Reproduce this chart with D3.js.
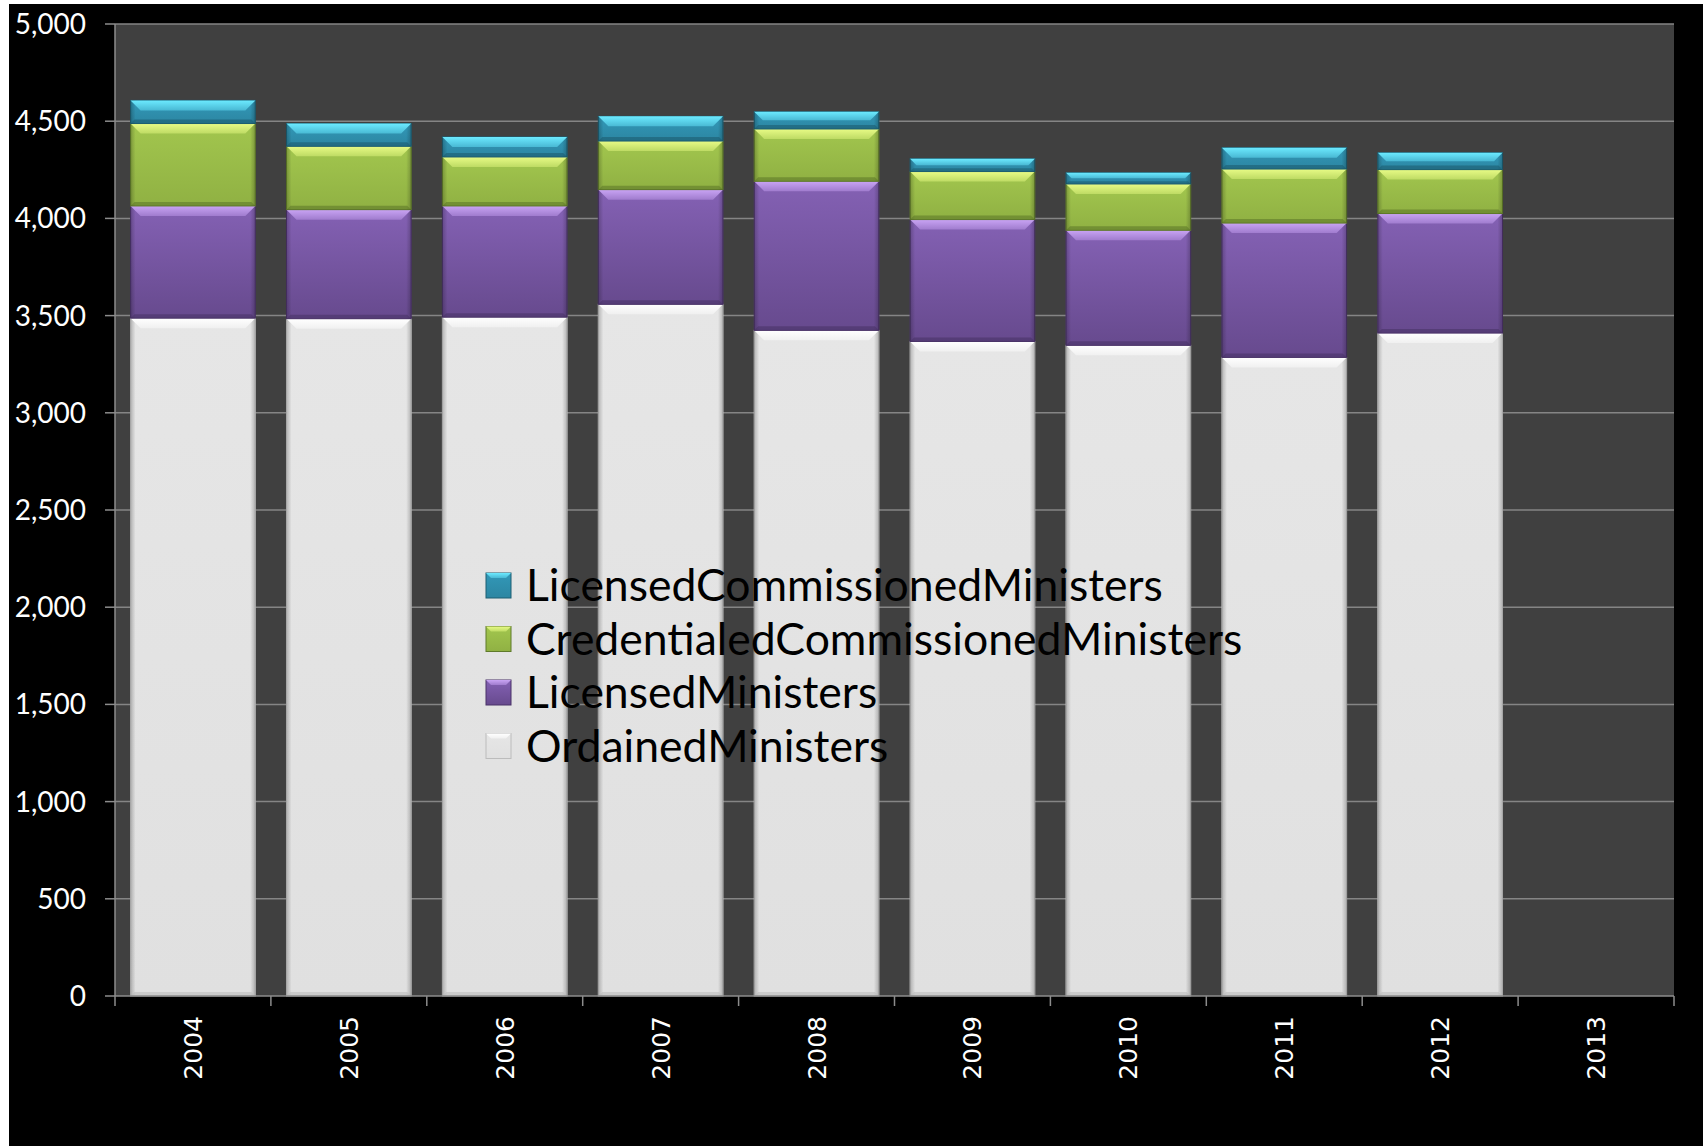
<!DOCTYPE html>
<html>
<head>
<meta charset="utf-8">
<script src="https://cdnjs.cloudflare.com/ajax/libs/d3/7.8.5/d3.min.js"></script>
<style>
  body { margin: 0; background: #000; }
  svg { display: block; }
</style>
</head>
<body>
<div class="chart"></div>
<script>
// Ministers by year, stacked column chart

// Data
// ==============================
var years = ["2004", "2005", "2006", "2007", "2008", "2009", "2010", "2011", "2012", "2013"];
var ordainedMinisters = [3487, 3484, 3492, 3558, 3424, 3367, 3347, 3285, 3410, 0];
var licensedMinisters = [577, 561, 572, 590, 767, 627, 592, 691, 615, 0];
var credentialedCommissioned = [424, 326, 252, 250, 269, 247, 238, 278, 226, 0];
var licensedCommissioned = [119, 117, 103, 127, 89, 66, 58, 110, 87, 0];
var yTicks = [0, 500, 1000, 1500, 2000, 2500, 3000, 3500, 4000, 4500, 5000];

var seriesNames = ["OrdainedMinisters", "LicensedMinisters", "CredentialedCommissionedMinisters", "LicensedCommissionedMinisters"];

// colours: [highlight, top, bottom, shadow]
var seriesColors = {
  OrdainedMinisters: ["#ffffff", "#e6e6e6", "#e0e0e0", "#bcbcbc"],
  LicensedMinisters: ["#c9a4f4", "#8461b4", "#674a8e", "#4a3368"],
  CredentialedCommissionedMinisters: ["#e8fb86", "#a2c64e", "#90b143", "#5f7a2a"],
  LicensedCommissionedMinisters: ["#6ceaff", "#3298b8", "#2c86a2", "#1d5e72"]
};

var svgWidth = 1703;
var svgHeight = 1146;

var margin = {
  top: 24,
  right: 29,
  bottom: 150,
  left: 115
};

var width = svgWidth - margin.left - margin.right;
var height = svgHeight - margin.top - margin.bottom;

var svg = d3.select(".chart")
  .append("svg")
  .attr("width", svgWidth)
  .attr("height", svgHeight);

// white frame on the top / left edge, black canvas
svg.append("rect")
  .attr("width", svgWidth)
  .attr("height", svgHeight)
  .attr("fill", "#ffffff");
svg.append("rect")
  .attr("x", 9)
  .attr("y", 4)
  .attr("width", svgWidth - 9)
  .attr("height", svgHeight - 4)
  .attr("fill", "#000000");

var defs = svg.append("defs");

seriesNames.forEach(function(name, i) {
  var c = seriesColors[name];
  var g = defs.append("linearGradient")
    .attr("id", "grad" + i)
    .attr("x1", 0).attr("y1", 0).attr("x2", 0).attr("y2", 1);
  g.append("stop").attr("offset", "0%").attr("stop-color", c[1]);
  g.append("stop").attr("offset", "100%").attr("stop-color", c[2]);

  var b = defs.append("linearGradient")
    .attr("id", "bevel" + i)
    .attr("x1", 0).attr("y1", 0).attr("x2", 0).attr("y2", 1);
  b.append("stop").attr("offset", "0%").attr("stop-color", c[0]);
  b.append("stop").attr("offset", "100%").attr("stop-color", d3.interpolateRgb(c[0], c[1])(0.6));
});

var side = defs.append("linearGradient")
  .attr("id", "sideShade")
  .attr("x1", 0).attr("y1", 0).attr("x2", 1).attr("y2", 0);
side.append("stop").attr("offset", "0%").attr("stop-color", "#000").attr("stop-opacity", 0.22);
side.append("stop").attr("offset", "4%").attr("stop-color", "#000").attr("stop-opacity", 0);
side.append("stop").attr("offset", "96%").attr("stop-color", "#000").attr("stop-opacity", 0);
side.append("stop").attr("offset", "100%").attr("stop-color", "#000").attr("stop-opacity", 0.22);

var chartGroup = svg.append("g")
  .attr("transform", `translate(${margin.left}, ${margin.top})`);

// Step 1: Build table and stack
// ==============================
var table = years.map(function(y, i) {
  return {
    year: y,
    OrdainedMinisters: ordainedMinisters[i],
    LicensedMinisters: licensedMinisters[i],
    CredentialedCommissionedMinisters: credentialedCommissioned[i],
    LicensedCommissionedMinisters: licensedCommissioned[i]
  };
});

var stacked = d3.stack().keys(seriesNames)(table);

// Step 2: Scales
// ==============================
var xBandScale = d3.scaleBand()
  .domain(years)
  .range([0, width])
  .paddingInner(0.2)
  .paddingOuter(0.1);

var yLinearScale = d3.scaleLinear()
  .domain([0, 5000])
  .range([height, 0]);

// plot background
chartGroup.append("rect")
  .attr("width", width)
  .attr("height", height)
  .attr("fill", "#404040");

// gridlines
chartGroup.selectAll(".grid")
  .data(yTicks.slice(1))
  .enter()
  .append("line")
  .attr("x1", 0)
  .attr("x2", width)
  .attr("y1", d => yLinearScale(d))
  .attr("y2", d => yLinearScale(d))
  .attr("stroke", "#858585")
  .attr("stroke-width", 1.5);

// Step 3: Bars with bevel
// ==============================
var layers = chartGroup.selectAll(".layer")
  .data(stacked)
  .enter()
  .append("g")
  .attr("class", "layer");

layers.each(function(layer, i) {
  var c = seriesColors[layer.key];
  var segs = d3.select(this).selectAll("g")
    .data(layer.filter(d => d[1] - d[0] > 0))
    .enter()
    .append("g");

  segs.append("rect")
    .attr("x", d => xBandScale(d.data.year))
    .attr("y", d => yLinearScale(d[1]))
    .attr("width", xBandScale.bandwidth())
    .attr("height", d => yLinearScale(d[0]) - yLinearScale(d[1]))
    .attr("fill", "url(#grad" + i + ")")
    .attr("stroke", c[3])
    .attr("stroke-width", 1);

  segs.append("rect")
    .attr("x", d => xBandScale(d.data.year))
    .attr("y", d => yLinearScale(d[1]))
    .attr("width", xBandScale.bandwidth())
    .attr("height", d => yLinearScale(d[0]) - yLinearScale(d[1]))
    .attr("fill", "url(#sideShade)");

  // top highlight trapezoid
  segs.append("path")
    .attr("fill", "url(#bevel" + i + ")")
    .attr("d", function(d) {
      var x0 = xBandScale(d.data.year);
      var w = xBandScale.bandwidth();
      var yt = yLinearScale(d[1]);
      var h = Math.min(10, (yLinearScale(d[0]) - yt) / 2);
      return `M${x0},${yt}H${x0 + w}L${x0 + w - h},${yt + h}H${x0 + h}Z`;
    });

  // bottom shadow trapezoid
  segs.append("path")
    .attr("fill", c[3])
    .attr("opacity", 0.6)
    .attr("d", function(d) {
      var x0 = xBandScale(d.data.year);
      var w = xBandScale.bandwidth();
      var yb = yLinearScale(d[0]);
      var h = Math.min(4, (yb - yLinearScale(d[1])) / 4);
      return `M${x0},${yb}H${x0 + w}L${x0 + w - h},${yb - h}H${x0 + h}Z`;
    });
});

// Step 4: Axes
// ==============================
var axisColor = "#8c8c8c";

chartGroup.append("line")
  .attr("x1", 0).attr("x2", 0)
  .attr("y1", 0).attr("y2", height)
  .attr("stroke", axisColor)
  .attr("stroke-width", 1.5);

chartGroup.append("line")
  .attr("x1", 0).attr("x2", width)
  .attr("y1", height).attr("y2", height)
  .attr("stroke", axisColor)
  .attr("stroke-width", 1.5);

chartGroup.selectAll(".ytick")
  .data(yTicks)
  .enter()
  .append("line")
  .attr("x1", -10).attr("x2", 0)
  .attr("y1", d => yLinearScale(d))
  .attr("y2", d => yLinearScale(d))
  .attr("stroke", axisColor)
  .attr("stroke-width", 1.5);

chartGroup.selectAll(".ylabel")
  .data(yTicks)
  .enter()
  .append("text")
  .attr("x", -29)
  .attr("y", d => yLinearScale(d))
  .attr("dy", "0.36em")
  .attr("text-anchor", "end")
  .attr("font-family", "Lato, sans-serif")
  .attr("font-size", "28px")
  .attr("fill", "#ffffff")
  .text(d => d3.format(",")(d));

var boundaries = years.map(y => xBandScale(y) - xBandScale.step() * xBandScale.paddingOuter());
boundaries.push(width);

chartGroup.selectAll(".xtick")
  .data(boundaries)
  .enter()
  .append("line")
  .attr("x1", d => d).attr("x2", d => d)
  .attr("y1", height).attr("y2", height + 10)
  .attr("stroke", axisColor)
  .attr("stroke-width", 1.5);

chartGroup.selectAll(".xlabel")
  .data(years)
  .enter()
  .append("text")
  .attr("transform", d => `translate(${xBandScale(d) + xBandScale.bandwidth() / 2}, ${height + 20}) rotate(-90)`)
  .attr("dy", "0.36em")
  .attr("text-anchor", "end")
  .attr("font-family", "'DejaVu Sans', sans-serif")
  .attr("font-size", "25px")
  .attr("fill", "#ffffff")
  .text(d => d);

// Step 5: Legend
// ==============================
var legendNames = seriesNames.slice().reverse();
var legend = svg.append("g")
  .attr("transform", "translate(486, 585)");

var items = legend.selectAll("g")
  .data(legendNames)
  .enter()
  .append("g")
  .attr("transform", (d, i) => `translate(0, ${i * 53.5})`);

items.append("rect")
  .attr("x", 0)
  .attr("y", -12)
  .attr("width", 25)
  .attr("height", 25)
  .attr("fill", d => "url(#grad" + seriesNames.indexOf(d) + ")")
  .attr("stroke", d => seriesColors[d][3])
  .attr("stroke-width", 1);

items.append("path")
  .attr("fill", d => "url(#bevel" + seriesNames.indexOf(d) + ")")
  .attr("d", "M0,-12H25L20,-7H5Z");

items.append("text")
  .attr("x", 40)
  .attr("y", 0)
  .attr("dy", "0.36em")
  .attr("font-family", "Lato, sans-serif")
  .attr("font-size", "44.5px")
  .attr("fill", "#000000")
  .text(d => d);
</script>
</body>
</html>
